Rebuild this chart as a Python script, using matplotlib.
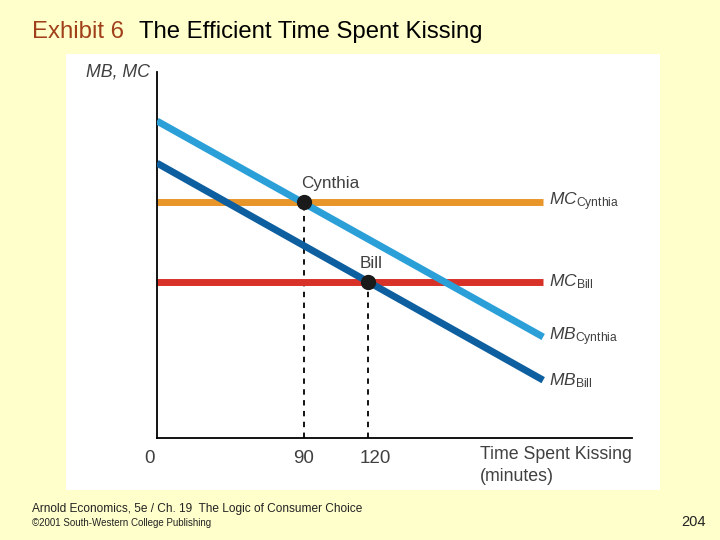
import matplotlib
matplotlib.use("Agg")
import matplotlib.pyplot as plt
from matplotlib.patches import Rectangle

plt.rcParams['font.family'] = ['Liberation Sans', 'DejaVu Sans']
plt.rcParams['mathtext.fontset'] = 'custom'
plt.rcParams['mathtext.rm'] = 'Liberation Sans'
plt.rcParams['mathtext.it'] = 'Liberation Sans:italic'

# schematic units: both axes run 0..100 (the picture is not drawn to scale)
curve_x = [0, 81.3]
mb_cynthia = [86.6, 27.6]
mb_bill = [75.1, 15.8]
mc_cynthia = 64.5
mc_bill = 42.6

points_x = [30.9, 44.4]
points_y = [mc_cynthia, mc_bill]
point_names = ["Cynthia", "Bill"]

tick_pos = [-1.5, 30.9, 46.0]
tick_labels = ["0", "90", "120"]

BG = '#FFFFCC'
GREY = '#404040'

fig = plt.figure(figsize=(7.2, 5.4), dpi=100, facecolor=BG)
fig.patches.append(Rectangle((66 / 720, 1 - 490 / 540), (660 - 66) / 720, (490 - 54) / 540,
                             transform=fig.transFigure, facecolor='white', edgecolor='none', zorder=-1))

ax = fig.add_axes([157 / 720, 1 - 438 / 540, (632 - 157) / 720, (438 - 72) / 540])
ax.set_zorder(2)
ax.set_facecolor('none')
ax.set_xlim(0, 100)
ax.set_ylim(0, 100)
for s in ['top', 'right']:
  ax.spines[s].set_visible(False)
for s in ['left', 'bottom']:
  ax.spines[s].set_linewidth(1.3)
ax.set_xticks([])
ax.set_yticks([])

ax.plot(curve_x, [mc_cynthia, mc_cynthia], color='#E8962A', lw=5, solid_capstyle='butt', zorder=2)
ax.plot(curve_x, [mc_bill, mc_bill], color='#D83228', lw=5, solid_capstyle='butt', zorder=2)
ax.plot(curve_x, mb_cynthia, color='#2A9FD8', lw=5, solid_capstyle='butt', zorder=3)
ax.plot(curve_x, mb_bill, color='#0E5FA0', lw=5, solid_capstyle='butt', zorder=3)

for x, y, name in zip(points_x, points_y, point_names):
  ax.plot([x, x], [0, y], color='black', lw=1.3, ls=(0, (3, 3)), zorder=1)
  ax.plot(x, y, 'o', color='#1a1a1a', ms=10, zorder=5)
  ax.text(x + (5.6 if name == "Cynthia" else 0.6), y + 3, name, ha='center', va='bottom',
          fontsize=12.3, color=GREY)

for x, lab in zip(tick_pos, tick_labels):
  ax.text(x, -3.3, lab, ha='center', va='top', fontsize=13.5, color=GREY)

ax.text(68, -2.2, "Time Spent Kissing\n(minutes)", ha='left', va='top', fontsize=12.8,
        color=GREY, linespacing=1.4)
ax.text(-1.5, 100, "MB, MC", ha='right', va='center', fontsize=12.8, style='italic', color=GREY)

ax.text(82.5, mc_cynthia, r'$\mathit{MC}_{\mathrm{Cynthia}}$', ha='left', va='center', fontsize=12.5, color=GREY)
ax.text(82.5, mc_bill, r'$\mathit{MC}_{\mathrm{Bill}}$', ha='left', va='center', fontsize=12.5, color=GREY)
ax.text(82.5, mb_cynthia[1], r'$\mathit{MB}_{\mathrm{Cynthia}}$', ha='left', va='center', fontsize=12.5, color=GREY)
ax.text(82.5, mb_bill[1], r'$\mathit{MB}_{\mathrm{Bill}}$', ha='left', va='center', fontsize=12.5, color=GREY)

fig.text(32 / 720, 1 - 32 / 540, "Exhibit 6", ha='left', va='center', fontsize=17.2, color='#A0401A')
fig.text(139 / 720, 1 - 32 / 540, "The Efficient Time Spent Kissing", ha='left', va='center',
         fontsize=17.2, color='black')

fig.text(32 / 720, 1 - 509 / 540, "Arnold Economics, 5e / Ch. 19  The Logic of Consumer Choice",
         ha='left', va='center', fontsize=8.6, color='#222222')
fig.text(32 / 720, 1 - 523 / 540, "\u00a92001 South-Western College Publishing",
         ha='left', va='center', fontsize=7, color='#222222')
fig.text(706 / 720, 1 - 522 / 540, "204", ha='right', va='center', fontsize=10.5, color='#222222')

fig.savefig("out.png", dpi=100, facecolor=BG)
